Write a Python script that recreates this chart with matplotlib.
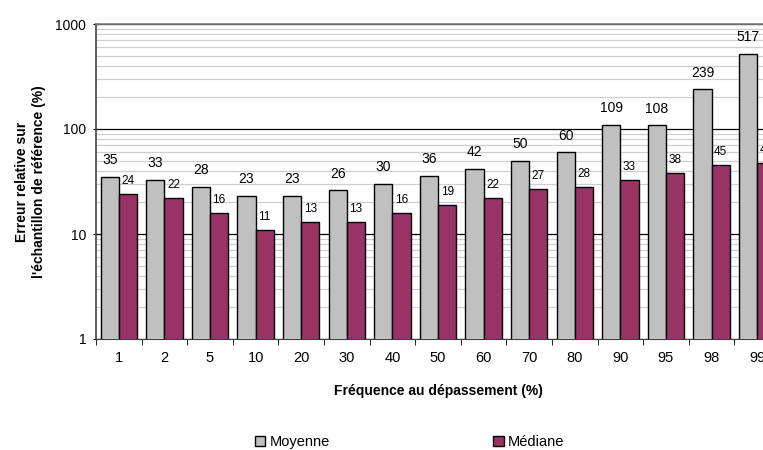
import numpy as np
import matplotlib
matplotlib.use("Agg")
import matplotlib.pyplot as plt
from matplotlib.ticker import LogLocator, NullFormatter, FixedLocator

plt.rcParams['font.family'] = ['Liberation Sans', 'DejaVu Sans']

# data
freq = ['1', '2', '5', '10', '20', '30', '40', '50', '60', '70', '80', '90', '95', '98', '99']
moyenne = [35, 33, 28, 23, 23, 26, 30, 36, 42, 50, 60, 109, 108, 239, 517]
mediane = [24, 22, 16, 11, 13, 13, 16, 19, 22, 27, 28, 33, 38, 45, 47]

W, H = 763, 450
fig = plt.figure(figsize=(W / 100, H / 100), dpi=100)
# axes runs past the right edge like the original (last bar is clipped)
left, right, top, bot = 96, 96 + 15 * 45.6, 24, 339
ax = fig.add_axes([left / W, 1 - bot / H, (right - left) / W, (bot - top) / H])

x = np.arange(len(freq))
bw = 0.4
ax.bar(x - bw / 2, moyenne, bw, color='#C0C0C0', edgecolor='black', linewidth=1, label='Moyenne', zorder=3)
ax.bar(x + bw / 2, mediane, bw, color='#993366', edgecolor='black', linewidth=1, label='Médiane', zorder=3)

for i in range(len(freq)):
    ax.annotate(str(moyenne[i]), (x[i] - bw / 2, moyenne[i]), xytext=(0, 7), textcoords='offset points',
                ha='center', va='bottom', fontsize=10)
    ax.annotate(str(mediane[i]), (x[i] + bw / 2, mediane[i]), xytext=(0, 5), textcoords='offset points',
                ha='center', va='bottom', fontsize=8.5)

ax.set_yscale('log')
ax.set_ylim(1, 1000)
ax.set_xlim(-0.5, 14.5)
ax.yaxis.set_major_locator(FixedLocator([1, 10, 100, 1000]))
ax.set_yticklabels(['1', '10', '100', '1000'])
ax.yaxis.set_minor_locator(LogLocator(base=10, subs=np.arange(2, 10)))
ax.yaxis.set_minor_formatter(NullFormatter())
ax.grid(True, which='major', axis='y', color='black', linewidth=0.9, zorder=0)
ax.grid(True, which='minor', axis='y', color='#CFCFCF', linewidth=0.9, zorder=0)
ax.tick_params(axis='y', which='minor', length=0)
ax.tick_params(axis='y', which='major', length=4, direction='inout', labelsize=10, pad=5)

ax.set_xticks(x)
ax.set_xticklabels(freq, fontsize=10.5)
ax.set_xticks(np.arange(-0.5, 15, 1), minor=True)
ax.tick_params(axis='x', which='major', length=0, pad=9)
ax.tick_params(axis='x', which='minor', length=4, direction='out')

ax.spines['right'].set_visible(False)
ax.spines['top'].set_color('#808080')
ax.spines['top'].set_linewidth(1.2)
ax.spines['left'].set_color('#404040')
ax.spines['bottom'].set_color('#404040')
ax.spines['left'].set_linewidth(1.2)

ax.set_xlabel('Fréquence au dépassement (%)', fontsize=10, fontweight='bold', labelpad=13)
ax.set_ylabel("Erreur relative sur\nl'échantillon de référence (%)", fontsize=10, fontweight='bold', labelpad=7)

fig.legend(loc='center', bbox_to_anchor=(0.537, 0.017), ncol=2, frameon=False, fontsize=10.5,
           handlelength=0.7, handleheight=0.7, handletextpad=0.3, columnspacing=11.2,
           borderpad=0.1)

fig.savefig('out.png', dpi=100)
